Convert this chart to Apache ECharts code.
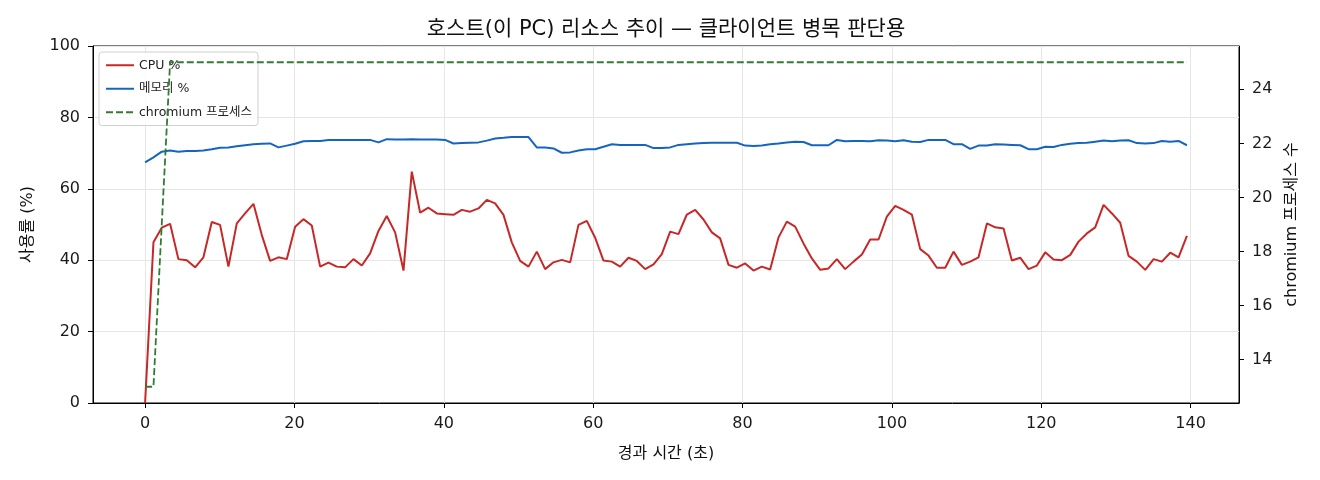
<!DOCTYPE html>
<html>
<head>
<meta charset="utf-8">
<script src="https://cdn.jsdelivr.net/npm/echarts@6/dist/echarts.min.js"></script>
<style>
html, body { margin: 0; padding: 0; background: #fff; }
#chart { width: 1320px; height: 480px; }
</style>
</head>
<body>
<div id="chart"></div>
<script>
// sample times (s) and readings
var elapsedSec = [0, 1.12, 2.23, 3.35, 4.46, 5.58, 6.70, 7.81, 8.93, 10.04,
	11.16, 12.28, 13.39, 14.51, 15.62, 16.74, 17.86, 18.97, 20.09, 21.20,
	22.32, 23.44, 24.55, 25.67, 26.78, 27.90, 29.02, 30.13, 31.25, 32.36,
	33.48, 34.60, 35.71, 36.83, 37.94, 39.06, 40.18, 41.29, 42.41, 43.52,
	44.64, 45.76, 46.87, 47.99, 49.10, 50.22, 51.34, 52.45, 53.57, 54.68,
	55.80, 56.92, 58.03, 59.15, 60.26, 61.38, 62.50, 63.61, 64.73, 65.84,
	66.96, 68.08, 69.19, 70.31, 71.42, 72.54, 73.66, 74.77, 75.89, 77.00,
	78.12, 79.24, 80.35, 81.47, 82.58, 83.70, 84.82, 85.93, 87.05, 88.16,
	89.28, 90.40, 91.51, 92.63, 93.74, 94.86, 95.98, 97.09, 98.21, 99.32,
	100.44, 101.56, 102.67, 103.79, 104.90, 106.02, 107.14, 108.25, 109.37, 110.48,
	111.60, 112.72, 113.83, 114.95, 116.06, 117.18, 118.30, 119.41, 120.53, 121.64,
	122.76, 123.88, 124.99, 126.11, 127.22, 128.34, 129.46, 130.57, 131.69, 132.80,
	133.92, 135.04, 136.15, 137.27, 138.38, 139.50];

var cpuPct = [0, 45.0, 49.1, 50.2, 40.3, 40.0, 38.0, 40.8, 50.7, 49.9,
	38.2, 50.3, 53.1, 55.8, 47.1, 39.8, 40.8, 40.3, 49.4, 51.5,
	49.7, 38.2, 39.3, 38.2, 38.0, 40.3, 38.5, 41.9, 48.2, 52.4,
	47.8, 37.1, 64.8, 53.3, 54.7, 53.1, 52.9, 52.7, 54.1, 53.6,
	54.5, 56.9, 55.9, 52.7, 45.0, 39.8, 38.2, 42.4, 37.5, 39.4,
	40.1, 39.4, 49.9, 51.0, 46.3, 39.9, 39.6, 38.2, 40.7, 39.8,
	37.5, 38.8, 41.7, 48.0, 47.3, 52.8, 54.1, 51.4, 47.8, 46.1,
	38.7, 37.9, 39.1, 37.1, 38.2, 37.4, 46.4, 50.8, 49.4, 44.7,
	40.5, 37.3, 37.7, 40.3, 37.5, 39.6, 41.6, 45.8, 45.8, 52.2,
	55.2, 54.1, 52.8, 43.1, 41.3, 37.9, 37.9, 42.4, 38.7, 39.6,
	40.8, 50.3, 49.2, 48.9, 39.9, 40.7, 37.5, 38.5, 42.2, 40.2,
	40.0, 41.5, 45.2, 47.5, 49.2, 55.5, 53.1, 50.5, 41.2, 39.6,
	37.3, 40.3, 39.6, 42.1, 40.8, 46.8];

var memPct = [67.4, 68.8, 70.4, 70.7, 70.4, 70.6, 70.6, 70.7, 71.1, 71.5,
	71.6, 71.9, 72.2, 72.5, 72.6, 72.7, 71.6, 72.1, 72.6, 73.3,
	73.4, 73.4, 73.7, 73.7, 73.7, 73.7, 73.7, 73.7, 73.0, 73.9,
	73.8, 73.8, 73.9, 73.8, 73.8, 73.8, 73.7, 72.7, 72.8, 72.9,
	73.0, 73.5, 74.1, 74.3, 74.5, 74.5, 74.5, 71.6, 71.6, 71.3,
	70.1, 70.2, 70.7, 71.1, 71.1, 71.8, 72.5, 72.3, 72.3, 72.3,
	72.3, 71.4, 71.4, 71.6, 72.3, 72.5, 72.7, 72.8, 72.9, 72.9,
	72.9, 72.9, 72.1, 72.0, 72.1, 72.5, 72.7, 73.0, 73.2, 73.1,
	72.2, 72.2, 72.2, 73.7, 73.3, 73.4, 73.4, 73.3, 73.6, 73.5,
	73.3, 73.6, 73.2, 73.1, 73.7, 73.7, 73.7, 72.5, 72.5, 71.2,
	72.1, 72.1, 72.5, 72.4, 72.3, 72.2, 71.1, 71.1, 71.8, 71.7,
	72.3, 72.6, 72.8, 72.9, 73.2, 73.5, 73.3, 73.5, 73.6, 72.8,
	72.7, 72.8, 73.4, 73.2, 73.4, 72.2];

var chromiumCount = [13, 13, 19, 25, 25, 25, 25, 25, 25, 25,
	25, 25, 25, 25, 25, 25, 25, 25, 25, 25,
	25, 25, 25, 25, 25, 25, 25, 25, 25, 25,
	25, 25, 25, 25, 25, 25, 25, 25, 25, 25,
	25, 25, 25, 25, 25, 25, 25, 25, 25, 25,
	25, 25, 25, 25, 25, 25, 25, 25, 25, 25,
	25, 25, 25, 25, 25, 25, 25, 25, 25, 25,
	25, 25, 25, 25, 25, 25, 25, 25, 25, 25,
	25, 25, 25, 25, 25, 25, 25, 25, 25, 25,
	25, 25, 25, 25, 25, 25, 25, 25, 25, 25,
	25, 25, 25, 25, 25, 25, 25, 25, 25, 25,
	25, 25, 25, 25, 25, 25, 25, 25, 25, 25,
	25, 25, 25, 25, 25, 25];

var timeTicks = [0, 20, 40, 60, 80, 100, 120, 140];
var procTicks = [14, 16, 18, 20, 22, 24];

var FONT = '"DejaVu Sans", "Noto Sans CJK KR", sans-serif';

function pairs(values) {
	return elapsedSec.map(function(t, i) {
		return [t, values[i]];
	});
}

var chart = echarts.init(document.getElementById('chart'));

var tickStyle = { color: '#000', width: 1 };
var labelStyle = { color: '#1a1a1a', fontSize: 16, fontFamily: FONT };
var nameStyle = { fontSize: 16, color: '#111', fontFamily: FONT };

chart.setOption({
	animation: false,
	textStyle: { fontFamily: FONT },
	title: {
		text: '호스트(이 PC) 리소스 추이 — 클라이언트 병목 판단용',
		left: 661,
		top: 14,
		textAlign: 'center',
		textStyle: { fontSize: 21, fontWeight: 'normal', color: '#111', fontFamily: FONT }
	},
	grid: {
		left: 93, right: 81, top: 46, bottom: 77,
		show: true, borderColor: '#000', borderWidth: 1,
		backgroundColor: 'transparent'
	},
	legend: {
		orient: 'vertical',
		left: 99, top: 52,
		z: 1,
		itemWidth: 28, itemHeight: 12, itemGap: 11,
		padding: [7, 6, 7, 6],
		backgroundColor: 'rgba(255,255,255,0.8)',
		borderColor: '#d0d0d0', borderWidth: 1, borderRadius: 3,
		itemStyle: { opacity: 0 },
		textStyle: { fontSize: 12.5, color: '#222', fontFamily: FONT },
		data: ['CPU %', '메모리 %', 'chromium 프로세스']
	},
	xAxis: {
		type: 'value',
		min: -6.975, max: 146.475,
		name: '경과 시간 (초)',
		nameLocation: 'middle', nameGap: 43,
		nameTextStyle: nameStyle,
		axisLine: { show: true, onZero: false, lineStyle: tickStyle },
		axisTick: { show: true, length: 5, customValues: timeTicks, lineStyle: tickStyle },
		axisLabel: Object.assign({ customValues: timeTicks, margin: 13 }, labelStyle),
		splitLine: { show: true, lineStyle: { color: '#e6e6e6', width: 1 } }
	},
	yAxis: [{
		type: 'value',
		min: 0, max: 100, interval: 20,
		position: 'left',
		name: '사용률 (%)',
		nameLocation: 'middle', nameGap: 57, nameRotate: 90,
		nameTextStyle: nameStyle,
		axisLine: { show: true, onZero: false, lineStyle: tickStyle },
		axisTick: { show: true, length: 5, lineStyle: tickStyle },
		axisLabel: Object.assign({ margin: 13 }, labelStyle),
		splitLine: { show: true, lineStyle: { color: '#e6e6e6', width: 1 } }
	}, {
		type: 'value',
		min: 12.4, max: 25.6,
		position: 'right',
		name: 'chromium 프로세스 수',
		nameLocation: 'middle', nameGap: 45, nameRotate: 90,
		nameTextStyle: nameStyle,
		axisLine: { show: true, onZero: false, lineStyle: tickStyle },
		axisTick: { show: true, length: 5, customValues: procTicks, lineStyle: tickStyle },
		axisLabel: Object.assign({ customValues: procTicks, margin: 13 }, labelStyle),
		splitLine: { show: false }
	}],
	series: [{
		name: 'CPU %',
		type: 'line',
		yAxisIndex: 0,
		symbol: 'none',
		z: 3,
		lineStyle: { color: '#c62828', width: 2 },
		itemStyle: { color: '#c62828' },
		data: pairs(cpuPct)
	}, {
		name: '메모리 %',
		type: 'line',
		yAxisIndex: 0,
		symbol: 'none',
		z: 3,
		lineStyle: { color: '#1565c0', width: 2 },
		itemStyle: { color: '#1565c0' },
		data: pairs(memPct)
	}, {
		name: 'chromium 프로세스',
		type: 'line',
		yAxisIndex: 1,
		symbol: 'none',
		z: 4,
		lineStyle: { color: '#2e7d32', width: 1.8, type: [7, 3] },
		itemStyle: { color: '#2e7d32' },
		data: pairs(chromiumCount)
	}]
});
</script>
</body>
</html>
